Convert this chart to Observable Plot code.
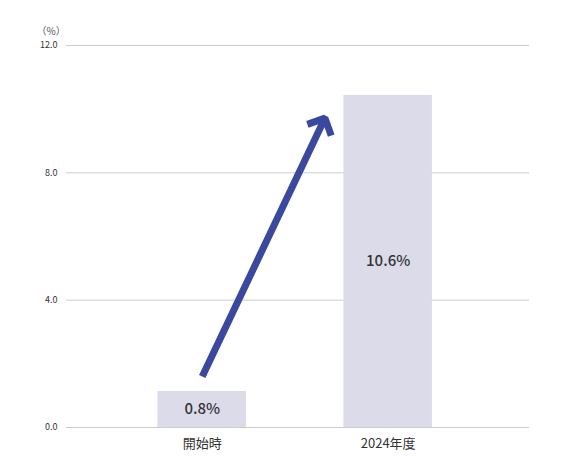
<!DOCTYPE html>
<html>
<head>
<meta charset="utf-8">
<script src="https://cdn.jsdelivr.net/npm/d3@7"></script>
<script src="https://cdn.jsdelivr.net/npm/@observablehq/plot@0.6"></script>
<style>
  html, body { margin: 0; padding: 0; background: #fff; }
  #chart { width: 564px; height: 468px; }
</style>
</head>
<body>
<div id="chart"></div>
<script>
const categories = ["開始時", "2024年度"];
const barValues = [1.13, 10.43];
const valueLabels = ["0.8%", "10.6%"];
const yTicks = [0, 4, 8, 12];
const arrowFrom = [0, 1.6];
const arrowTo = [0.66, 9.72];

const bars = categories.map((c, i) => ({i, cat: c, value: barValues[i], label: valueLabels[i]}));
const arrows = [{x1: arrowFrom[0], y1: arrowFrom[1], x2: arrowTo[0], y2: arrowTo[1]}];

const font = "'Noto Sans CJK JP', 'Noto Sans', sans-serif";

const chart = Plot.plot({
  width: 564,
  height: 468,
  marginLeft: 66,
  marginRight: 35,
  marginTop: 45,
  marginBottom: 41,
  style: {fontFamily: font, color: "#333", background: "#fff"},
  x: {domain: [-0.73, 1.76], ticks: [0, 1], tickFormat: i => categories[i], tickSize: 0, tickPadding: 11, label: null},
  y: {domain: [0, 12], ticks: yTicks, tickFormat: d3.format(".1f"), tickSize: 0, tickPadding: 9, label: null},
  marks: [
    Plot.ruleY(yTicks, {stroke: "#cccccc", strokeWidth: 1}),
    Plot.rectY(bars, {x1: d => d.i - 0.238, x2: d => d.i + 0.238, y: "value", fill: "#dcdbea"}),
    Plot.text(bars, {x: "i", y: d => d.value / 2, text: "label", fontSize: 15, fill: "#333", fontWeight: 500}),
    Plot.arrow(arrows, {x1: "x1", y1: "y1", x2: "x2", y2: "y2", stroke: "#3a489e", strokeWidth: 7, headLength: 4, headAngle: 90, strokeLinecap: "butt", strokeLinejoin: "miter"}),
    Plot.text(["（%）"], {frameAnchor: "top-left", dx: -30, dy: -18, text: d => d, fontSize: 10, fill: "#555"}),
    Plot.axisX({ticks: [0, 1], tickFormat: i => categories[i], tickSize: 0, tickPadding: 11, fontSize: 13, label: null}),
    Plot.axisY({ticks: yTicks, tickFormat: d3.format(".1f"), tickSize: 0, tickPadding: 9, fontSize: 9, label: null})
  ]
});
document.getElementById("chart").appendChild(chart);
</script>
</body>
</html>
